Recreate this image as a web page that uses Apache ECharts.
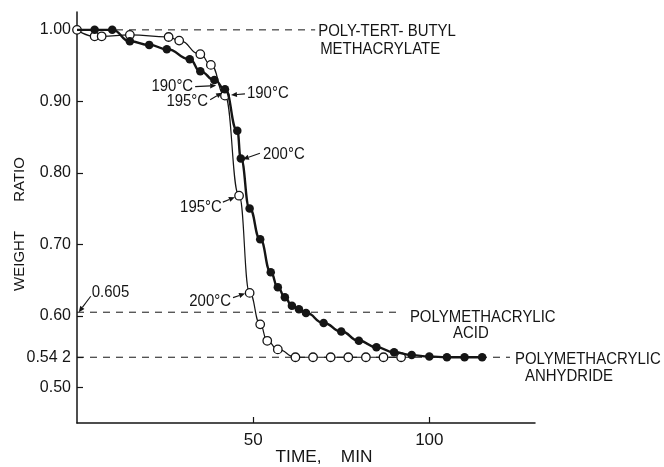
<!DOCTYPE html>
<html><head><meta charset="utf-8">
<script src="https://cdn.jsdelivr.net/npm/echarts@6/dist/echarts.min.js"></script>
<style>html,body{margin:0;padding:0;background:#fff}#c{width:664px;height:467px}</style>
</head><body><div id="c"></div>
<script>
// Isothermal weight loss of poly(tert-butyl methacrylate) vs. time
// filled circles (heavy curve)
const filledTime  = [0, 5, 10, 15, 20.5, 25.5, 32, 35, 39, 42, 45.5, 46.5, 49, 52, 55, 57, 59, 61, 63, 65, 70, 75, 80, 85, 90, 95, 100, 105, 110, 115];
const filledRatio = [1.000, 1.000, 1.000, 0.984, 0.979, 0.973, 0.959, 0.942, 0.930, 0.917, 0.859, 0.820, 0.750, 0.707, 0.661, 0.640, 0.626, 0.614, 0.609, 0.604, 0.590, 0.578, 0.565, 0.556, 0.549, 0.545, 0.543, 0.542, 0.542, 0.542];
// open circles (light curve)
const openTime  = [0, 5, 7, 15, 26, 29, 35, 38, 42, 46, 49, 52, 54, 57, 62, 67, 72, 77, 82, 87, 92];
const openRatio = [1.000, 0.991, 0.991, 0.993, 0.990, 0.985, 0.966, 0.951, 0.908, 0.768, 0.632, 0.588, 0.565, 0.553, 0.542, 0.542, 0.542, 0.542, 0.542, 0.542, 0.542];

const yTickValues = [0.5, 0.542, 0.6, 0.7, 0.8, 0.9, 1.0];
const yTickLabels = ['0.50', '0.54 2', '0.60', '0.70', '0.80', '0.90', '1.00'];
const xTickValues = [50, 100];
const xTickLabels = ['50', '100'];

// theoretical residues
const refLevels = [1.000, 0.605, 0.542];
const refNames = [
  ['POLY-TERT- BUTYL', 'METHACRYLATE'],
  ['POLYMETHACRYLIC', 'ACID'],
  ['POLYMETHACRYLIC', 'ANHYDRIDE']
];
const tempLabels = ['190°C', '195°C', '190°C', '200°C', '195°C', '200°C'];
const acidLabel = '0.605';

// drawing layout
const refEnds = [67.6, 90.8, 122.9];
const refText = [
  [{dx: 3, dy: 1, align: 'left'}, {dx: 5, dy: 19, align: 'left'}],
  [{dx: 13, dy: 5, align: 'left'}, {dx: 74, dy: 21, align: 'center'}],
  [{dx: 5, dy: 2, align: 'left'}, {dx: 15, dy: 19, align: 'left'}]
];
// arrow tip (data space), text offset and arrow tail offset (pixels)
const tempLayout = [
  {tip: [39.5, 0.922], tx: -23, ty: 1,  align: 'right', ax: -21, ay: 1},
  {tip: [41.2, 0.912], tx: -14, ty: 9,  align: 'right', ax: -12, ay: 7},
  {tip: [43.7, 0.909], tx: 16,  ty: -2, align: 'left',  ax: 14,  ay: -1},
  {tip: [47.1, 0.819], tx: 20,  ty: -5, align: 'left',  ax: 17,  ay: -6},
  {tip: [44.8, 0.766], tx: -13, ty: 10, align: 'right', ax: -12, ay: 5},
  {tip: [47.7, 0.631], tx: -14, ty: 8,  align: 'right', ax: -12, ay: 4}
];
const acidLayout = {tip: [0.5, 0.605], tx: 13, ty: -20, align: 'left', ax: 12, ay: -16};

const FONT = '"Liberation Sans", Arial, sans-serif';
const INK = '#151515';
const NARROW = 0.88;

const chart = echarts.init(document.getElementById('c'), null, {renderer: 'canvas'});

const zip = (a, b) => a.map((v, i) => [v, b[i]]);

const refSeries = refLevels.map((lv, i) => ({
  type: 'line',
  data: [[0, lv], [refEnds[i], lv]],
  symbol: 'none',
  silent: true,
  z: 1,
  lineStyle: {color: INK, width: 1, type: [7, 6]}
}));

// the first filled point coincides with the open one; leave its marker off
const filledData = zip(filledTime, filledRatio).map((p, i) =>
  i === 0 ? {value: p, symbol: 'none'} : p);

chart.setOption({
  animation: false,
  backgroundColor: '#fff',
  grid: {left: 77, right: 129, top: 12, bottom: 44},
  xAxis: {
    type: 'value', min: 0, max: 130,
    axisLine: {lineStyle: {color: INK, width: 1.5}},
    axisTick: {inside: true, length: 6, customValues: xTickValues, lineStyle: {color: INK, width: 1.2}},
    axisLabel: {customValues: xTickValues, margin: 9, color: INK, fontSize: 17, fontFamily: FONT,
      formatter: v => xTickLabels[xTickValues.indexOf(v)]},
    splitLine: {show: false}
  },
  yAxis: {
    type: 'value', min: 0.45, max: 1.025,
    axisLine: {show: true, lineStyle: {color: INK, width: 1.5}},
    axisTick: {show: true, inside: true, length: 6, customValues: yTickValues, lineStyle: {color: INK, width: 1.2}},
    axisLabel: {customValues: yTickValues, margin: 6, color: INK, fontSize: 16, fontFamily: FONT,
      formatter: v => yTickLabels[yTickValues.indexOf(v)]},
    splitLine: {show: false}
  },
  series: refSeries.concat([
    {
      type: 'line', data: zip(openTime, openRatio),
      smooth: 0.5, smoothMonotone: 'x',
      symbol: 'circle', symbolSize: 8.5, z: 3,
      lineStyle: {color: INK, width: 1.2},
      itemStyle: {color: '#fff', borderColor: INK, borderWidth: 1.3}
    },
    {
      type: 'line', data: filledData,
      smooth: 0.5, smoothMonotone: 'x',
      symbol: 'circle', symbolSize: 8.5, z: 4,
      lineStyle: {color: INK, width: 2.4},
      itemStyle: {color: INK, borderColor: INK, borderWidth: 0}
    }
  ])
});

const px = p => chart.convertToPixel({gridIndex: 0}, p);

function text(str, x, y, align, opt) {
  opt = opt || {};
  return {
    type: 'text', x: x, y: y, rotation: opt.rot || 0, scaleX: opt.sx || NARROW, z: 10,
    style: {text: str, fill: INK, font: (opt.size || 17) + 'px ' + FONT, align: align, verticalAlign: 'middle'}
  };
}

function arrow(tail, tip) {
  const dx = tip[0] - tail[0], dy = tip[1] - tail[1];
  const len = Math.hypot(dx, dy), ux = dx / len, uy = dy / len;
  const hl = 6, hw = 2.6;
  const base = [tip[0] - ux * hl, tip[1] - uy * hl];
  return [
    {type: 'line', z: 10, shape: {x1: tail[0], y1: tail[1], x2: base[0], y2: base[1]},
      style: {stroke: INK, lineWidth: 1.1}},
    {type: 'polygon', z: 10, shape: {points: [tip,
      [base[0] - uy * hw, base[1] + ux * hw], [base[0] + uy * hw, base[1] - ux * hw]]},
      style: {fill: INK}}
  ];
}

const g = [];
refLevels.forEach((lv, i) => {
  const e = px([refEnds[i], lv]);
  refNames[i].forEach((s, k) => {
    const t = refText[i][k];
    g.push(text(s, e[0] + t.dx, e[1] + t.dy, t.align));
  });
});
function annotate(label, L) {
  const p = px(L.tip);
  g.push(text(label, p[0] + L.tx, p[1] + L.ty, L.align));
  g.push(...arrow([p[0] + L.ax, p[1] + L.ay], p));
}
tempLabels.forEach((s, i) => annotate(s, tempLayout[i]));
annotate(acidLabel, acidLayout);

// axis titles
g.push(text('WEIGHT       RATIO', 20, 224, 'center', {rot: Math.PI / 2, size: 15, sx: 1}));
g.push(text('TIME,    MIN', 324, 458, 'center', {size: 16, sx: 1.08}));

chart.setOption({graphic: g});
</script>
</body></html>
